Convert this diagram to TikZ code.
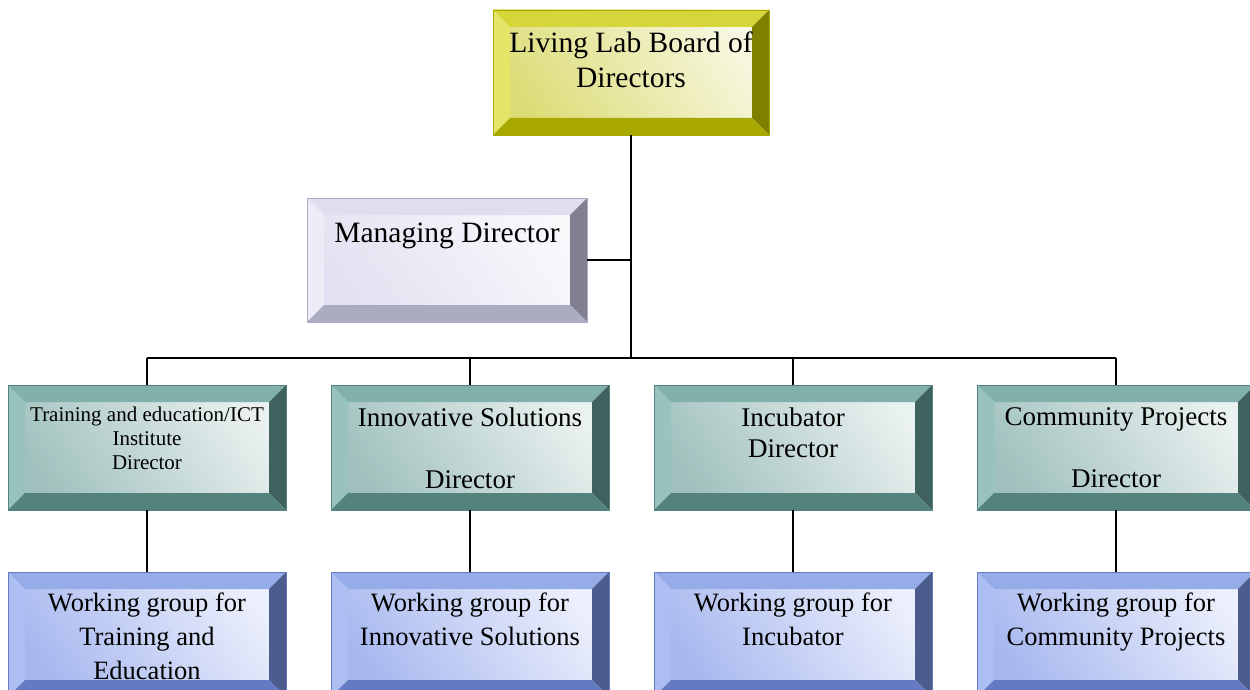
\documentclass[tikz,border=0pt]{standalone}
\usepackage{fontspec}
\setmainfont{Liberation Serif}
\usetikzlibrary{positioning}

% bevel colours: T top, L left, R right, B bottom, F face
\definecolor{yelT}{RGB}{214,214,58}
\definecolor{yelL}{RGB}{228,228,102}
\definecolor{yelR}{RGB}{128,128,0}
\definecolor{yelB}{RGB}{168,168,0}
\definecolor{yelF}{RGB}{205,205,60}
\definecolor{lavT}{RGB}{222,222,238}
\definecolor{lavL}{RGB}{236,236,246}
\definecolor{lavR}{RGB}{128,128,145}
\definecolor{lavB}{RGB}{172,172,192}
\definecolor{lavF}{RGB}{212,212,235}
\definecolor{tealT}{RGB}{130,176,172}
\definecolor{tealL}{RGB}{152,194,190}
\definecolor{tealR}{RGB}{64,98,94}
\definecolor{tealB}{RGB}{84,130,124}
\definecolor{tealF}{RGB}{118,165,160}
\definecolor{bluT}{RGB}{150,172,232}
\definecolor{bluL}{RGB}{172,190,242}
\definecolor{bluR}{RGB}{76,92,140}
\definecolor{bluB}{RGB}{100,122,195}
\definecolor{bluF}{RGB}{128,152,232}

\def\bevw{17pt}

\tikzset{
  bevel/.style={rectangle, draw=#1B, line width=0.6pt, inner sep=0pt,
    minimum width=278pt, minimum height=125pt,
    left color=#1F!70, middle color=white, right color=#1F!15, shading angle=125,
    path picture={
      \path (path picture bounding box.south west) coordinate (pps)
            (path picture bounding box.north east) coordinate (ppn);
      \fill[#1T] (pps |- ppn) -- (ppn) -- ([shift={(-\bevw,-\bevw)}]ppn)
        -- ([shift={(\bevw,-\bevw)}]pps |- ppn) -- cycle;
      \fill[#1L] (pps |- ppn) -- (pps) -- ([shift={(\bevw,\bevw)}]pps)
        -- ([shift={(\bevw,-\bevw)}]pps |- ppn) -- cycle;
      \fill[#1R] (ppn) -- (ppn |- pps) -- ([shift={(-\bevw,\bevw)}]ppn |- pps)
        -- ([shift={(-\bevw,-\bevw)}]ppn) -- cycle;
      \fill[#1B] (pps) -- (ppn |- pps) -- ([shift={(-\bevw,\bevw)}]ppn |- pps)
        -- ([shift={(\bevw,\bevw)}]pps) -- cycle;
    }},
  bigtxt/.style={font=\fontsize{29.5}{35}\selectfont, align=center, anchor=north, inner sep=0pt},
  dirtxt/.style={font=\fontsize{27}{31}\selectfont, align=center, anchor=north, inner sep=0pt},
  smalltxt/.style={font=\fontsize{21}{24}\selectfont, align=center, anchor=north, inner sep=0pt},
  wgtxt/.style={font=\fontsize{26.5}{34}\selectfont, align=center, anchor=north, inner sep=0pt},
  conn/.style={draw=black, line width=1.6pt}
}

\begin{document}
\begin{tikzpicture}[x=1pt, y=-1pt]
  \useasboundingbox (0,0) rectangle (1250,690);
  \clip (0,0) rectangle (1250,690);

  % boxes
  \node[bevel=yel, minimum width=276pt] (board) at (631,72.5) {};
  \node[bevel=lav, minimum width=280pt, minimum height=124pt] (md) at (447,260) {};
  \node[bevel=teal] (dir1) at (147,447.5) {};
  \node[bevel=teal] (dir2) at (470,447.5) {};
  \node[bevel=teal] (dir3) at (793,447.5) {};
  \node[bevel=teal] (dir4) at (1116,447.5) {};
  \node[bevel=blu] (wg1) at (147,634.5) {};
  \node[bevel=blu] (wg2) at (470,634.5) {};
  \node[bevel=blu] (wg3) at (793,634.5) {};
  \node[bevel=blu] (wg4) at (1116,634.5) {};

  % texts
  \node[bigtxt] (boardt) at ([yshift=-22pt]board.north) {Living Lab Board of\\Directors};
  \node[bigtxt] (mdt) at ([yshift=-25pt]md.north) {Managing Director};
  \node[smalltxt] (dir1t) at ([yshift=-22pt]dir1.north) {Training and education/ICT\\Institute\\Director};
  \node[dirtxt] (dir2t) at ([yshift=-23pt]dir2.north) {Innovative Solutions\\[31pt]Director};
  \node[dirtxt] (dir3t) at ([yshift=-23pt]dir3.north) {Incubator\\Director};
  \node[dirtxt] (dir4t) at ([yshift=-23pt]dir4.north) {Community Projects\\[31pt]Director};
  \node[wgtxt] (wg1t) at ([yshift=-21pt]wg1.north) {Working group for\\Training and\\Education};
  \node[wgtxt] (wg2t) at ([yshift=-21pt]wg2.north) {Working group for\\Innovative Solutions};
  \node[wgtxt] (wg3t) at ([yshift=-21pt]wg3.north) {Working group for\\Incubator};
  \node[wgtxt] (wg4t) at ([yshift=-21pt]wg4.north) {Working group for\\Community Projects};

  % connectors
  \coordinate (bus) at (631,358);
  \draw[conn] (board.south) -- (bus);
  \draw[conn] (md.east) -- (md.east -| bus);
  \draw[conn] (dir1.north |- bus) -- (dir4.north |- bus);
  \foreach \i in {1,...,4} {
    \draw[conn] (dir\i.north) -- (dir\i.north |- bus);
    \draw[conn] (dir\i.south) -- (wg\i.north);
  }
\end{tikzpicture}
\end{document}
